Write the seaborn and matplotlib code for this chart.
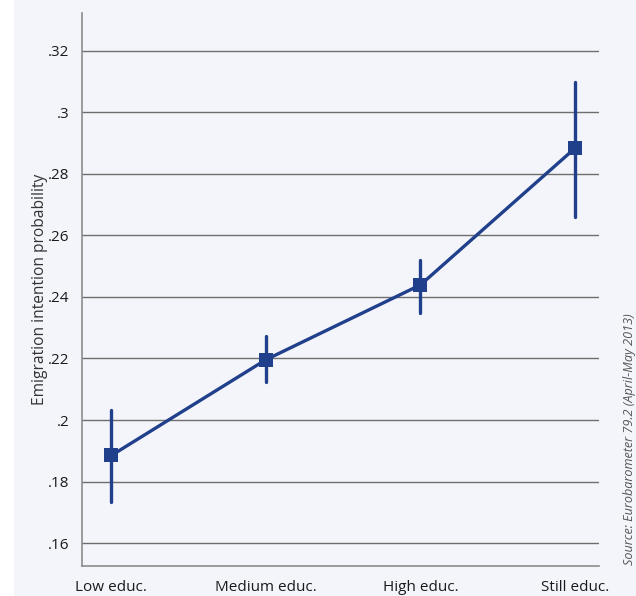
import numpy as np
import pandas as pd
import matplotlib
matplotlib.use("Agg")
import matplotlib.pyplot as plt
from matplotlib.patches import Rectangle
from matplotlib.ticker import FuncFormatter
import seaborn as sns

# ---- data ----
categories = ["Low educ.", "Medium educ.", "High educ.", "Still educ."]
estimates = [0.1885, 0.2196, 0.2439, 0.2883]
ci_low = [0.1734, 0.2125, 0.2347, 0.2661]
ci_high = [0.2033, 0.2274, 0.2520, 0.3097]
y_ticks = [0.16, 0.18, 0.20, 0.22, 0.24, 0.26, 0.28, 0.30, 0.32]

# long table: low / estimate / high per category -> median = estimate, full range = CI
rows = []
for c, lo, m, hi in zip(categories, ci_low, estimates, ci_high):
    for v in (lo, m, hi):
        rows.append({"educ": c, "prob": v})
df = pd.DataFrame(rows)

sns.set_theme(style="white")
plt.rcParams["font.family"] = ["Open Sans", "DejaVu Sans"]

BG = "#f4f5fa"
BLUE = "#21408b"

fig = plt.figure(figsize=(6.36, 5.96), dpi=100, facecolor="white")
fig.patches.append(Rectangle((14 / 636, 0), 1 - 14 / 636, 1, transform=fig.transFigure,
                             facecolor=BG, edgecolor="none", zorder=-10))
ax = fig.add_axes([82 / 636, 30 / 596, (599 - 82) / 636, (566 - 13) / 596])
ax.set_facecolor(BG)

sns.pointplot(data=df, x="educ", y="prob", order=categories,
              estimator="median", errorbar=("pi", 100),
              color=BLUE, markers="s", markersize=10.0, markeredgewidth=0,
              linewidth=2.4, err_kws={"linewidth": 2.4}, ax=ax)

ax.set_xlim(-0.19, 3.155)
ax.set_ylim(0.1526, 0.3322)
ax.set_yticks(y_ticks)
ax.yaxis.set_major_formatter(FuncFormatter(lambda v, p: ("%.2f" % v).lstrip("0").rstrip("0")))
ax.yaxis.grid(True, color="#6e6e6e", linewidth=1.0)
ax.set_axisbelow(True)
ax.tick_params(axis="both", length=0, labelsize=11, colors="#1a1a1a")
ax.tick_params(axis="y", pad=9)
ax.tick_params(axis="x", pad=10)

for s in ("top", "right"):
    ax.spines[s].set_visible(False)
for s in ("left", "bottom"):
    ax.spines[s].set_color("#8c8c8c")
    ax.spines[s].set_linewidth(1.2)

ax.set_xlabel("")
ax.set_ylabel("Emigration intention probability", fontsize=11.2, color="#333333", labelpad=0)

fig.text(630 / 636, 31 / 596, "Source: Eurobarometer 79.2 (April-May 2013)",
         rotation=90, ha="center", va="bottom", fontsize=9.1, style="italic", color="#555555")

fig.savefig("out.png", dpi=100, facecolor=fig.get_facecolor())
